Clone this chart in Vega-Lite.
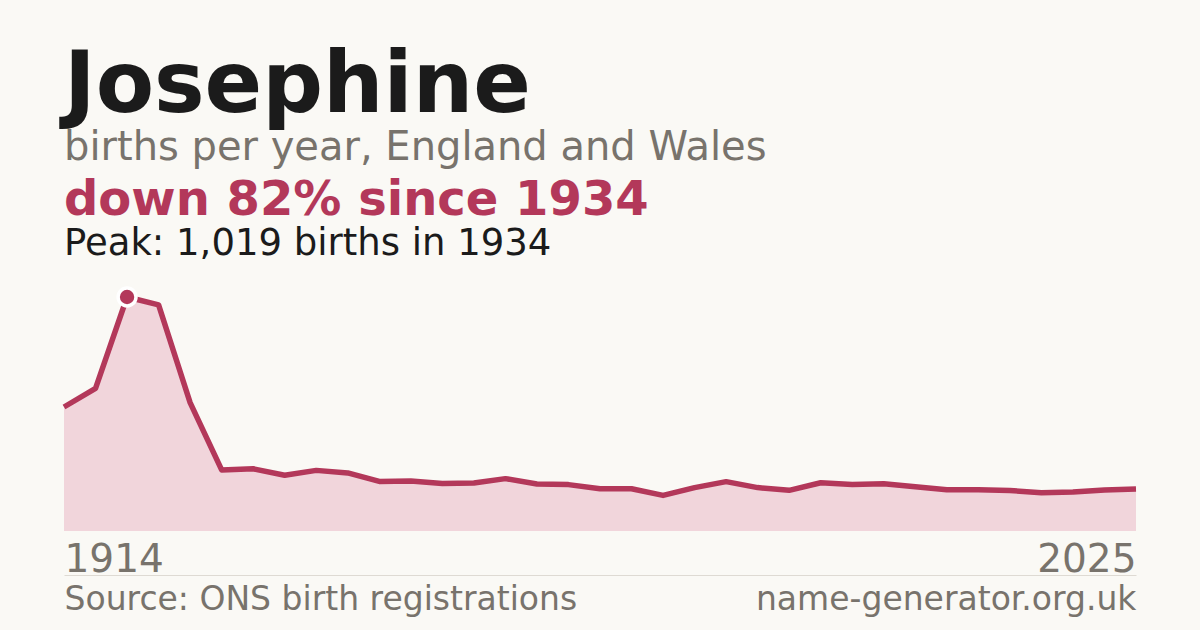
{
  "$schema": "https://vega.github.io/schema/vega-lite/v6.json",
  "background": "#faf9f5",
  "padding": {"left": 61, "right": 61, "top": 44, "bottom": 14},
  "config": {"font": "DejaVu Sans", "view": {"stroke": null}},
  "title": {
    "text": "Josephine",
    "subtitle": "births per year, England and Wales",
    "anchor": "start", "frame": "group",
    "fontSize": 85, "fontWeight": "bold", "color": "#1b1b1b",
    "subtitleFontSize": 40, "subtitleColor": "#78736c",
    "subtitlePadding": -2, "offset": 8
  },
  "data": {
    "values": [
      {"year": 1914, "births": 540},
      {"year": 1924, "births": 621},
      {"year": 1934, "births": 1019},
      {"year": 1944, "births": 985},
      {"year": 1954, "births": 559},
      {"year": 1996, "births": 266},
      {"year": 1997, "births": 271},
      {"year": 1998, "births": 243},
      {"year": 1999, "births": 264},
      {"year": 2000, "births": 253},
      {"year": 2001, "births": 216},
      {"year": 2002, "births": 218},
      {"year": 2003, "births": 207},
      {"year": 2004, "births": 209},
      {"year": 2005, "births": 228},
      {"year": 2006, "births": 205},
      {"year": 2007, "births": 202},
      {"year": 2008, "births": 184},
      {"year": 2009, "births": 184},
      {"year": 2010, "births": 155},
      {"year": 2011, "births": 189},
      {"year": 2012, "births": 215},
      {"year": 2013, "births": 189},
      {"year": 2014, "births": 177},
      {"year": 2015, "births": 210},
      {"year": 2016, "births": 203},
      {"year": 2017, "births": 206},
      {"year": 2018, "births": 193},
      {"year": 2019, "births": 180},
      {"year": 2020, "births": 180},
      {"year": 2021, "births": 176},
      {"year": 2022, "births": 167},
      {"year": 2023, "births": 170},
      {"year": 2024, "births": 179},
      {"year": 2025, "births": 183}
    ]
  },
  "vconcat": [
    {
      "title": {
        "text": "down 82% since 1934",
        "subtitle": "Peak: 1,019 births in 1934",
        "anchor": "start", "frame": "group",
        "fontSize": 48, "fontWeight": "bold", "color": "#b3385a",
        "subtitleFontSize": 37, "subtitleColor": "#1b1b1b",
        "subtitlePadding": 1, "offset": 19
      },
      "width": 1072,
      "height": 234,
      "layer": [
        {
          "mark": {"type": "area", "color": "#f1d5db"},
          "encoding": {
            "x": {
              "field": "year", "type": "ordinal",
              "scale": {"type": "point", "padding": 0},
              "axis": {
                "title": null, "orient": "bottom", "values": [1914, 2025],
                "labelFlush": true, "labelAngle": 0, "labelLimit": 0,
                "domain": false, "ticks": false, "tickSize": 0, "grid": false,
                "labelPadding": 40, "labelBaseline": "alphabetic",
                "labelFontSize": 39, "labelColor": "#78736c"
              }
            },
            "y": {
              "field": "births", "type": "quantitative",
              "scale": {"domain": [0, 1019], "nice": false}, "axis": null
            }
          }
        },
        {
          "mark": {"type": "line", "color": "#b3385a", "strokeWidth": 5.5, "strokeJoin": "round"},
          "encoding": {
            "x": {
              "field": "year", "type": "ordinal",
              "scale": {"type": "point", "padding": 0},
              "axis": {
                "title": null, "orient": "bottom", "values": [1914, 2025],
                "labelExpr": "datum.value == 1914 ? 'Source: ONS birth registrations' : 'name-generator.org.uk'",
                "labelFlush": true, "labelAngle": 0, "labelLimit": 0,
                "domain": true, "domainColor": "#dedad3", "domainWidth": 1,
                "ticks": false, "tickSize": 0, "grid": false, "offset": 44,
                "labelPadding": 34, "labelBaseline": "alphabetic",
                "labelFontSize": 33, "labelColor": "#78736c"
              }
            },
            "y": {
              "field": "births", "type": "quantitative",
              "scale": {"domain": [0, 1019], "nice": false}, "axis": null
            }
          }
        },
        {
          "transform": [{"filter": "datum.year == 1934"}],
          "mark": {"type": "point", "filled": true, "shape": "circle", "size": 320, "color": "#b3385a", "stroke": "#ffffff", "strokeWidth": 3.5, "opacity": 1},
          "encoding": {
            "x": {
              "field": "year", "type": "ordinal",
              "scale": {"type": "point", "padding": 0}, "axis": null
            },
            "y": {
              "field": "births", "type": "quantitative",
              "scale": {"domain": [0, 1019], "nice": false}, "axis": null
            }
          }
        }
      ],
      "resolve": {"axis": {"x": "independent"}}
    }
  ]
}
